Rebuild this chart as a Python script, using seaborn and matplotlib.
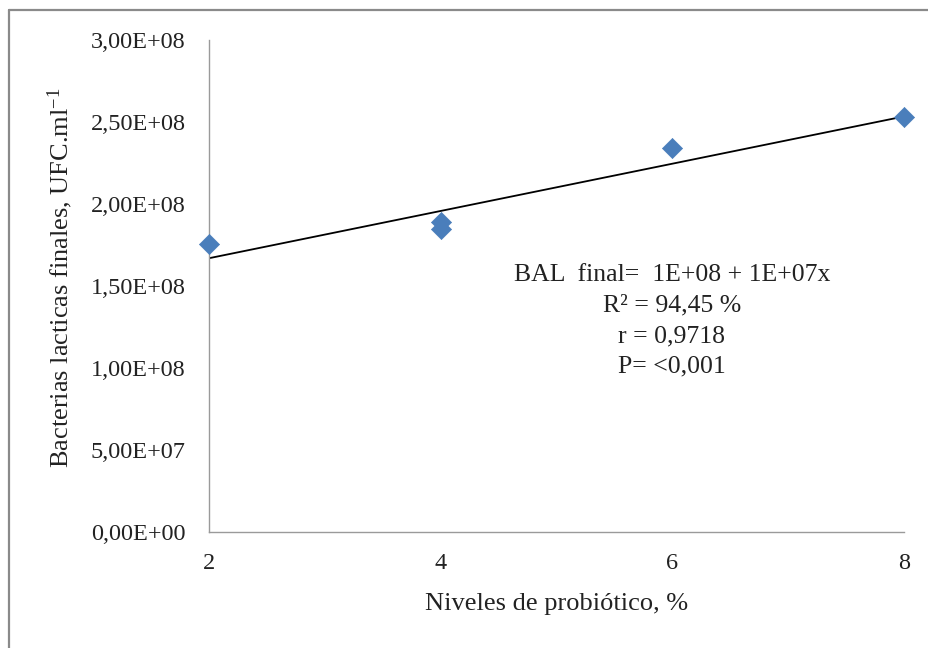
import matplotlib
matplotlib.use("Agg")
import matplotlib.pyplot as plt
import seaborn as sns
import pandas as pd
from matplotlib.lines import Line2D

# data
niveles = [2, 4, 4, 6, 8]
bacterias = [1.756e8, 1.89e8, 1.848e8, 2.34e8, 2.53e8]
y_ticks = [0, 5e7, 1e8, 1.5e8, 2e8, 2.5e8, 3e8]
y_tick_labels = ["0,00E+00", "5,00E+07", "1,00E+08", "1,50E+08", "2,00E+08", "2,50E+08", "3,00E+08"]
x_ticks = [2, 4, 6, 8]
annot_lines = ["BAL  final=  1E+08 + 1E+07x", "R² = 94,45 %", "r = 0,9718", "P= <0,001"]

sns.set_theme(style="white")
plt.rcParams["font.family"] = ["Liberation Serif", "DejaVu Serif"]
plt.rcParams["mathtext.fontset"] = "custom"
plt.rcParams["mathtext.rm"] = "Liberation Serif"
plt.rcParams["mathtext.it"] = "Liberation Serif:italic"

df = pd.DataFrame({"x": niveles, "y": bacterias})

fig = plt.figure(figsize=(9.29, 6.48), dpi=100)
ax = fig.add_axes([209/929, 1 - 532/648, (904-209)/929, (532-40)/648])

sns.regplot(data=df, x="x", y="y", ax=ax, scatter=False, ci=None, truncate=True,
            line_kws=dict(color="black", lw=1.3))
sns.scatterplot(data=df, x="x", y="y", ax=ax, marker="D", s=105, color="#4A7EBB",
                edgecolor="#4A7EBB", linewidth=0.5, clip_on=False, zorder=5)

ax.set_xlim(2, 8)
ax.set_ylim(0, 3e8)
ax.set_xticks(x_ticks)
ax.set_xticklabels([str(v) for v in x_ticks], fontsize=17.5)
ax.set_yticks(y_ticks)
ax.set_yticklabels(y_tick_labels, fontsize=17.5)
ax.tick_params(axis="both", length=0, colors="#222222")
ax.tick_params(axis="y", pad=17)
ax.tick_params(axis="x", pad=15)

for side in ["top", "right"]:
    ax.spines[side].set_visible(False)
for side in ["left", "bottom"]:
    ax.spines[side].set_color("#9a9a9a")
    ax.spines[side].set_linewidth(1.0)

ax.set_xlabel("Niveles de probiótico, %", fontsize=19, color="#222222")
ax.set_ylabel(r"Bacterias lacticas finales, UFC.ml$^{\mathregular{-1}}$", fontsize=19,
              color="#222222")
ax.xaxis.set_label_coords(0.5, -(604 - 532) / (532 - 40), transform=ax.transAxes)
ax.xaxis.label.set_va("center")
ax.yaxis.set_label_coords((60 - 209) / (904 - 209), (532 - 278) / (532 - 40))
ax.yaxis.label.set_va("center")

ys = [275, 305, 336, 366]
for txt, yy in zip(annot_lines, ys):
    fig.text(672/929, 1 - yy/648, txt, ha="center", va="center", fontsize=18.5, color="#222222")

# outer frame (left and top edges)
fig.add_artist(Line2D([9.5/929, 9.5/929], [0, 1 - 9.5/648], transform=fig.transFigure,
                      color="#8a8a8a", lw=1.6))
fig.add_artist(Line2D([9.5/929, 1], [1 - 9.5/648, 1 - 9.5/648], transform=fig.transFigure,
                      color="#8a8a8a", lw=1.6))

fig.savefig("out.png", dpi=100)
